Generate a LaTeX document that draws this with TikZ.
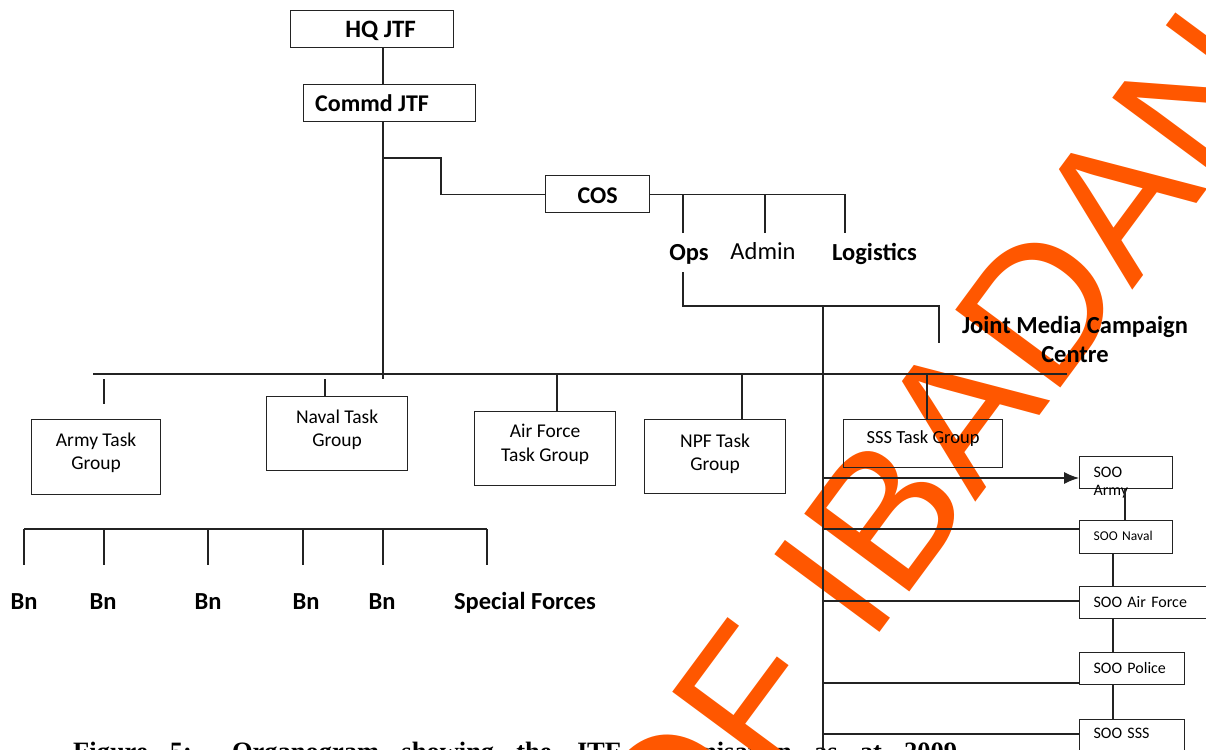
\documentclass[tikz,border=0pt]{standalone}
\usepackage{fontspec}
\setmainfont{Carlito}
\newfontfamily\capfont{Liberation Serif}
\newfontfamily\wmfont{Liberation Sans}
\usetikzlibrary{arrows.meta}
\definecolor{wm}{RGB}{255,87,0}
\definecolor{ln}{RGB}{35,35,35}
\begin{document}
\begin{tikzpicture}[x=1pt,y=-1pt,
  conn/.style={draw=ln, line width=1.2pt},
  mainline/.style={draw=ln, line width=2pt},
  arr/.style={conn, -{Latex[length=15pt,width=12pt]}},
  box/.style={draw=ln, line width=1.2pt, inner sep=0pt, anchor=north west, align=center,
    font=\fontsize{19.5}{23.5}\selectfont},
  topbox/.style={box, font=\bfseries\fontsize{24}{28}\selectfont},
  soo/.style={box, align=left, inner xsep=14pt, font=\fontsize{16}{18}\selectfont},
  lbl/.style={inner sep=0pt, anchor=base, font=\bfseries\fontsize{24.5}{29}\selectfont},
]
\useasboundingbox (0,0) rectangle (1206,749);
\clip (0,0) rectangle (1206,749);

% caption (cut by the page edge)
\node[anchor=base west, inner sep=0pt, font=\capfont\bfseries\fontsize{26.5}{30}\selectfont] (cap) at (73,760)
  {\makebox[884pt][s]{Figure 5: Organogram showing the JTF Organisation as at 2009}};

% watermark
\node[anchor=base west, inner sep=0pt, rotate=53.5, text=wm, font=\wmfont\fontsize{190}{200}\selectfont] (wmk) at (869,647)
  {\llap{UNIVERSITY OF }IBADAN LIBRARY};

% top boxes
\node[topbox, minimum width=163pt, text height=27pt, text depth=10pt, font=\bfseries\fontsize{25}{28}\selectfont] (hq) at (290,10) {\hspace*{17pt}HQ JTF};
\node[topbox, minimum width=172pt, text height=27pt, text depth=10pt] (commd) at (303,84) {Commd JTF\hspace*{35pt}};
\node[topbox, minimum width=104pt, text height=28pt, text depth=9pt] (cos) at (545,175) {COS};

% staff labels
\node[lbl] (ops) at (689,260) {Ops};
\node[lbl, font=\fontsize{24.5}{29}\selectfont] (admin) at (763,259) {Admin};
\node[lbl] (logistics) at (874.5,260) {Logistics};
\node[lbl, align=center] (jmcc) at (1075,362) {Joint Media Campaign\\Centre};

% task groups (baseline = last line)
\node[box, minimum width=129pt, text height=50pt, text depth=25pt] (army) at (31,419) {Army Task\\Group};
\node[box, minimum width=141pt, text height=50pt, text depth=24pt] (naval) at (266,396) {Naval Task\\Group};
\node[box, minimum width=141pt, text height=49.5pt, text depth=24.5pt] (airforce) at (474,411) {Air Force\\Task Group};
\node[box, minimum width=141pt, text height=51pt, text depth=23pt] (npf) at (644,419) {NPF Task\\Group};
\node[box, minimum width=159pt, text height=24pt, text depth=24pt, font=\fontsize{18.5}{22}\selectfont] (sss) at (843,419) {SSS Task Group};

% SOO boxes
\node[soo, text width=65pt, text height=21pt, text depth=11pt] (sooarmy) at (1079,456) {\makebox[0pt][l]{\raisebox{-18pt}{Army}}SOO};
\node[soo, text width=65pt, text height=20pt, text depth=13pt, font=\fontsize{13.5}{16}\selectfont] (soonaval) at (1079,520) {SOO Naval};
\node[soo, text width=99pt, text height=21pt, text depth=11pt] (sooaf) at (1079,586) {SOO Air Force};
\node[soo, text width=77pt, text height=21pt, text depth=11pt] (soopolice) at (1079,652) {SOO Police};
\node[soo, text width=77pt, text height=19pt, text depth=25pt] (soosss) at (1079,719) {SOO SSS};

% Bn labels
\node[lbl] (bn1) at (24,609) {Bn};
\node[lbl] (bn2) at (103,609) {Bn};
\node[lbl] (bn3) at (208,609) {Bn};
\node[lbl] (bn4) at (306,609) {Bn};
\node[lbl] (bn5) at (382,609) {Bn};
\node[lbl] (sf) at (525,609) {Special Forces};

% coordinates
\coordinate (spine) at (383,379);
\coordinate (br) at (383,158);
\coordinate (mainL) at (93,374);
\coordinate (mainR) at (1067,374);
\coordinate (opsT) at (683,233);
\coordinate (admT) at (765,233);
\coordinate (logT) at (845,233);
\coordinate (opsB) at (683,272);
\coordinate (opsC) at (683,306);
\coordinate (jmccC) at (939,306);
\coordinate (jmccT) at (939,343);
\coordinate (busT) at (823,306);
\coordinate (busB) at (823,749);
\coordinate (tArmy) at (104,379);
\coordinate (tNaval) at (325,379);
\coordinate (tAir) at (557,374);
\coordinate (tNpf) at (742,374);
\coordinate (tSss) at (927,374);
\coordinate (sb1) at (24,529);
\coordinate (sb2) at (104,529);
\coordinate (sb3) at (208,529);
\coordinate (sb4) at (303,529);
\coordinate (sb5) at (383,529);
\coordinate (sb6) at (487,529);
\coordinate (aA) at (1079,478);
\coordinate (aN) at (1079,529);
\coordinate (aF) at (1079,601);
\coordinate (aP) at (1079,683);
\coordinate (aS) at (1079,734);
\coordinate (vA) at (1125,0);
\coordinate (vB) at (1113,0);

% connectors
\draw[conn] (hq.south -| spine) -- (commd.north -| spine);
\draw[conn] (commd.south -| spine) -- (spine);
\draw[conn] (br) -- (441,158) |- (cos.west);
\draw[conn] (cos.east) -| (logT);
\draw[conn] (opsT) -- (opsT |- cos.east);
\draw[conn] (admT) -- (admT |- cos.east);
\draw[conn] (opsB) -- (opsC) -- (jmccC) -- (jmccT);
\draw[conn] (busT) -- (busB);
\draw[mainline] (mainL) -- (mainR);
\draw[conn] (tArmy) -- ++(0,25);
\draw[conn] (tNaval) -- (tNaval |- naval.north);
\draw[conn] (tAir) -- (tAir |- airforce.north);
\draw[conn] (tNpf) -- (tNpf |- npf.north);
\draw[conn] (tSss) -- (tSss |- sss.north);
\draw[conn] (sb1) -- (sb6);
\foreach \c in {sb1,sb2,sb3,sb4,sb5,sb6} \draw[conn] (\c) -- ++(0,36);
\draw[arr] (aA -| busT) -- (aA);
\draw[conn] (aN -| busT) -- (aN);
\draw[conn] (aF -| busT) -- (aF);
\draw[conn] (aP -| busT) -- (aP);
\draw[conn] (aS -| busT) -- (aS);
\draw[conn] (vA |- sooarmy.south) -- (vA |- soonaval.north);
\draw[conn] (vB |- soonaval.south) -- (vB |- sooaf.north);
\draw[conn] (vB |- sooaf.south) -- (vB |- soopolice.north);
\draw[conn] (vB |- soopolice.south) -- (vB |- soosss.north);
\end{tikzpicture}
\end{document}
